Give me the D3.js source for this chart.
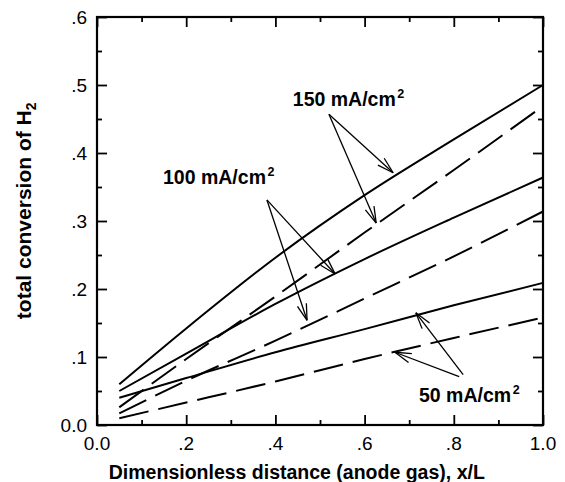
<!DOCTYPE html>
<html><head><meta charset="utf-8">
<script src="https://cdn.jsdelivr.net/npm/d3@7"></script>
<style>html,body{margin:0;padding:0;background:#fff;} svg{display:block;font-family:"Liberation Sans",Arial,sans-serif;}</style>
</head><body><svg id="chart" width="565" height="482"></svg>
<script>
// ---- data ----
const xPositions = [0.05, 0.2, 0.4, 0.6, 0.8, 1.0];
const solid150  = [0.060, 0.142, 0.246, 0.338, 0.420, 0.500];
const dashed150 = [0.026, 0.097, 0.189, 0.283, 0.375, 0.469];
const solid100  = [0.050, 0.105, 0.178, 0.244, 0.305, 0.364];
const dashed100 = [0.017, 0.065, 0.124, 0.186, 0.248, 0.314];
const solid50   = [0.040, 0.069, 0.107, 0.141, 0.176, 0.209];
const dashed50  = [0.010, 0.033, 0.064, 0.097, 0.128, 0.158];
const seriesNames = ["150 solid","150 dashed","100 solid","100 dashed","50 solid","50 dashed"];
const seriesDashed = [false,true,false,true,false,true];

const xTickValues = [0, 0.2, 0.4, 0.6, 0.8, 1.0];
const xTickLabels = ["0.0", ".2", ".4", ".6", ".8", "1.0"];
const yTickValues = [0, 0.1, 0.2, 0.3, 0.4, 0.5, 0.6];
const yTickLabels = ["0.0", ".1", ".2", ".3", ".4", ".5", ".6"];
const xMinorValues = [0.1, 0.3, 0.5, 0.7, 0.9];
const yMinorValues = [0.05, 0.15, 0.25, 0.35, 0.45, 0.55];

const xTitle = "Dimensionless distance (anode gas), x/L";
const yTitleMain = "total conversion of H";
const yTitleSub = "2";

// annotation labels
const labelTexts = ["150 mA/cm", "100 mA/cm", "50 mA/cm"];
const labelX = [0.439, 0.148, 0.722];
const labelY = [0.469, 0.354, 0.034];
// arrows: from (x0,y0) to tip (x1,y1)
const arrowX0 = [0.520, 0.520, 0.381, 0.381, 0.821, 0.812];
const arrowY0 = [0.457, 0.457, 0.331, 0.331, 0.074, 0.071];
const arrowX1 = [0.664, 0.626, 0.534, 0.471, 0.715, 0.668];
const arrowY1 = [0.371, 0.297, 0.222, 0.154, 0.165, 0.107];

// ---- drawing ----
(function () {
const svg = d3.select("#chart");
const pL = 97, pR = 543, pT = 17, pB = 425;
const x = d3.scaleLinear().domain([0, 1]).range([pL, pR]);
const y = d3.scaleLinear().domain([0, 0.6]).range([pB, pT]);

const allSeries = [solid150, dashed150, solid100, dashed100, solid50, dashed50];
const line = d3.line().x(d => x(d[0])).y(d => y(d[1])).curve(d3.curveMonotoneX);

function addAxis(axis, tx, ty) {
  const g = svg.append("g").attr("transform", `translate(${tx},${ty})`).call(axis);
  g.select(".domain").remove();
  g.selectAll(".tick line").attr("stroke", "#000").attr("stroke-width", 1.8);
  g.selectAll(".tick text").remove();
}
addAxis(d3.axisBottom(x).tickValues(xTickValues).tickSize(-10), 0, pB);
addAxis(d3.axisBottom(x).tickValues(xMinorValues).tickSize(-5), 0, pB);
addAxis(d3.axisTop(x).tickValues(xTickValues).tickSize(-10), 0, pT);
addAxis(d3.axisTop(x).tickValues(xMinorValues).tickSize(-5), 0, pT);
addAxis(d3.axisLeft(y).tickValues(yTickValues).tickSize(-10), pL, 0);
addAxis(d3.axisLeft(y).tickValues(yMinorValues).tickSize(-5), pL, 0);
addAxis(d3.axisRight(y).tickValues(yTickValues).tickSize(-10), pR, 0);
addAxis(d3.axisRight(y).tickValues(yMinorValues).tickSize(-5), pR, 0);

allSeries.forEach((vals, i) => {
  const pts = xPositions.map((xv, j) => [xv, vals[j]]);
  svg.append("path").datum(pts)
    .attr("d", line)
    .attr("fill", "none")
    .attr("stroke", "#000")
    .attr("stroke-width", 2)
    .attr("stroke-dasharray", seriesDashed[i] ? "30,10" : null)
    .attr("data-name", seriesNames[i]);
});

svg.append("rect").attr("x", pL).attr("y", pT)
  .attr("width", pR - pL).attr("height", pB - pT)
  .attr("fill", "none").attr("stroke", "#000").attr("stroke-width", 2.2);

const tickFont = 19;
xTickValues.forEach((v, i) => {
  svg.append("text").attr("x", x(v)).attr("y", pB + 25)
    .attr("text-anchor", "middle").attr("font-size", tickFont).attr("fill", "#000")
    .text(xTickLabels[i]);
});
yTickValues.forEach((v, i) => {
  svg.append("text").attr("x", pL - 10).attr("y", y(v) + 7)
    .attr("text-anchor", "end").attr("font-size", tickFont).attr("fill", "#000")
    .text(yTickLabels[i]);
});

svg.append("text").attr("x", x(0.448)).attr("y", 479)
  .attr("text-anchor", "middle").attr("font-size", 19.5).attr("font-weight", "bold")
  .text(xTitle);

const yt = svg.append("text")
  .attr("transform", `translate(31,${y(0.315)}) rotate(-90)`)
  .attr("text-anchor", "middle").attr("font-size", 21).attr("font-weight", "bold");
yt.append("tspan").text(yTitleMain);
yt.append("tspan").attr("font-size", 14).attr("dy", 5).text(yTitleSub);

labelTexts.forEach((t, i) => {
  const tx = svg.append("text").attr("x", x(labelX[i])).attr("y", y(labelY[i]))
    .attr("font-size", 19.5).attr("font-weight", "bold").attr("fill", "#000");
  tx.append("tspan").text(t);
  tx.append("tspan").attr("font-size", 12.5).attr("dy", -8).attr("dx", 1.5).text("2");
});

const barbLen = 17, barbAng = 16 * Math.PI / 180;
arrowX0.forEach((_, i) => {
  const px0 = x(arrowX0[i]), py0 = y(arrowY0[i]);
  const px1 = x(arrowX1[i]), py1 = y(arrowY1[i]);
  const ang = Math.atan2(py0 - py1, px0 - px1);
  const g = svg.append("g").attr("stroke", "#000").attr("stroke-width", 1.3).attr("fill", "none");
  g.append("line").attr("x1", px0).attr("y1", py0).attr("x2", px1).attr("y2", py1);
  [-1, 1].forEach(s => {
    g.append("line").attr("x1", px1).attr("y1", py1)
      .attr("x2", px1 + barbLen * Math.cos(ang + s * barbAng))
      .attr("y2", py1 + barbLen * Math.sin(ang + s * barbAng));
  });
});
})();
</script></body></html>
